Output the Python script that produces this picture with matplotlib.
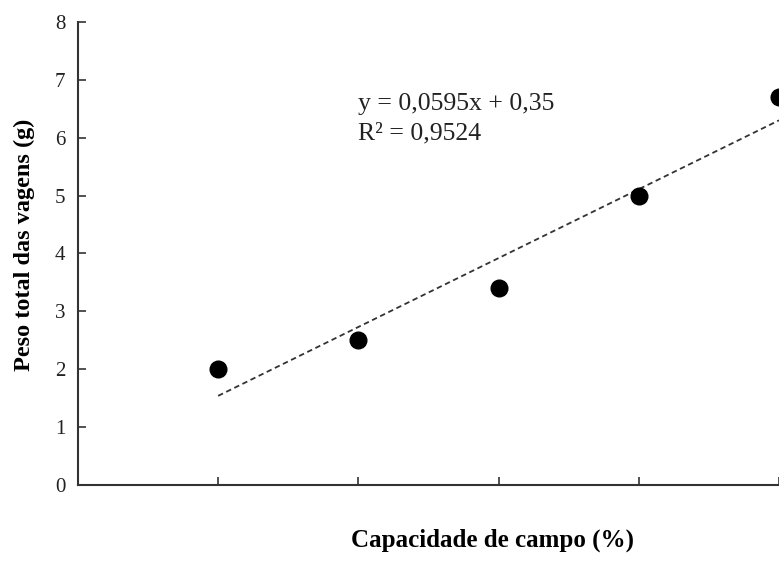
import matplotlib
matplotlib.use("Agg")
import matplotlib.pyplot as plt
import numpy as np

# Data
capacidade = [20, 40, 60, 80, 100]
peso = [2.0, 2.5, 3.4, 5.0, 6.7]
slope, intercept = 0.0595, 0.35
eq_text = "y = 0,0595x + 0,35"
r2_text = "R² = 0,9524"
y_ticks = [0, 1, 2, 3, 4, 5, 6, 7, 8]
x_ticks = [20, 40, 60, 80, 100]

plt.rcParams['font.family'] = ['Liberation Serif', 'DejaVu Serif']

fig = plt.figure(figsize=(7.79, 5.62), dpi=100)
ax = fig.add_axes([0.1, 0.137, 0.9, 0.824])

ax.plot(capacidade, peso, 'o', color='black', markersize=12, clip_on=False, zorder=3)
xf = np.array([capacidade[0], capacidade[-1]])
ax.plot(xf, slope * xf + intercept, linestyle=(0, (3, 2)), color='#333333', linewidth=1.3)

ax.set_xlim(0, 100)
ax.set_ylim(0, 8)
ax.set_xticks(x_ticks)
ax.set_xticklabels([])
ax.set_yticks(y_ticks)
ax.tick_params(axis='both', direction='in', length=6, width=1.2, color='#333333',
               labelsize=15, labelcolor='#222222')
ax.tick_params(axis='y', pad=9)

for s in ['top', 'right']:
    ax.spines[s].set_visible(False)
for s in ['left', 'bottom']:
    ax.spines[s].set_linewidth(1.5)
    ax.spines[s].set_color('#333333')

ax.text(40, 6.58, eq_text, fontsize=18.5, va='center', ha='left', color='#222222')
ax.text(40, 6.08, r2_text, fontsize=18.5, va='center', ha='left', color='#222222')

ax.set_ylabel("Peso total das vagens (g)", fontsize=17.5, fontweight='bold')
ax.yaxis.set_label_coords(-0.061, 0.518)
fig.text(0.632, 0.018, "Capacidade de campo (%)", fontsize=18, fontweight='bold',
         ha='center', va='bottom')

fig.savefig("out.png", dpi=100)
